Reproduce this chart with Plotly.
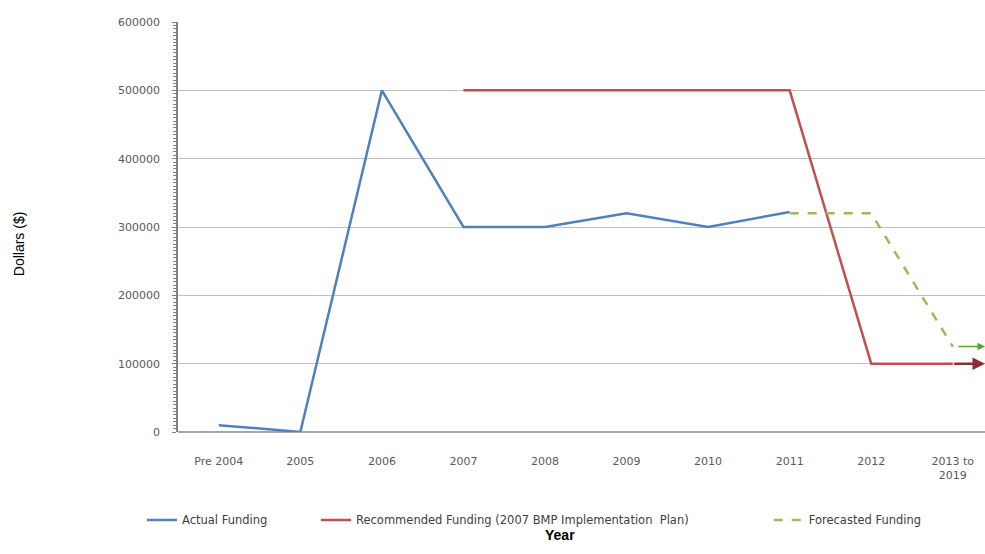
import plotly.graph_objects as go

categories = ["Pre 2004", "2005", "2006", "2007", "2008", "2009", "2010", "2011", "2012", "2013 to<br>2019"]
actual = [10000, 0, 500000, 300000, 300000, 320000, 300000, 322000, None, None]
recommended = [None, None, None, 500000, 500000, 500000, 500000, 500000, 100000, 100000]
forecast = [None, None, None, None, None, None, None, 320000, 320000, 125000]
y_ticks = [0, 100000, 200000, 300000, 400000, 500000, 600000]

xi = list(range(len(categories)))
font = "DejaVu Sans"
tick_col = "#595959"

fig = go.Figure()
fig.add_trace(go.Scatter(x=xi, y=actual, mode="lines", name="Actual Funding",
                         line=dict(color="#4F81BD", width=2.5), legend="legend"))
fig.add_trace(go.Scatter(x=xi, y=recommended, mode="lines",
                         name="Recommended Funding (2007 BMP Implementation  Plan)",
                         line=dict(color="#C0504D", width=2.5), legend="legend2"))
fig.add_trace(go.Scatter(x=xi, y=forecast, mode="lines", name="Forecasted Funding",
                         line=dict(color="#9BBB59", width=2.5, dash="dash"), legend="legend3"))

x_end = 9.395
# continuation arrows at right edge
fig.add_annotation(x=x_end, y=forecast[-1], ax=xi[-1] + 0.05, ay=forecast[-1],
                   xref="x", yref="y", axref="x", ayref="y", showarrow=True,
                   arrowhead=2, arrowsize=1, arrowwidth=1.5, arrowcolor="#4EA72E", text="")
fig.add_annotation(x=x_end, y=recommended[-1], ax=xi[-1], ay=recommended[-1],
                   xref="x", yref="y", axref="x", ayref="y", showarrow=True,
                   arrowhead=2, arrowsize=1, arrowwidth=2.5, arrowcolor="#8B2E3A", text="")

leg_font = dict(family=font, size=11.5, color="#404040")
leg_common = dict(orientation="h", xanchor="left", y=-0.2146, yanchor="middle",
                  font=leg_font, bgcolor="rgba(0,0,0,0)")

fig.update_layout(
    width=985, height=554,
    margin=dict(l=178, r=0, t=22, b=122),
    paper_bgcolor="white", plot_bgcolor="white",
    font=dict(family=font, size=11, color=tick_col),
    showlegend=True,
    legend=dict(x=-0.0446, **leg_common),
    legend2=dict(x=0.171, **leg_common),
    legend3=dict(x=0.732, **leg_common),
)
fig.update_xaxes(
    range=[-0.5, x_end], tickmode="array", tickvals=xi, ticktext=categories,
    showgrid=False, zeroline=False, showline=False,
    ticks="", ticklabelstandoff=21,
    tickfont=dict(family=font, size=11, color=tick_col),
)
fig.update_yaxes(
    range=[0, 600000], tickmode="array", tickvals=y_ticks,
    ticktext=[str(v) for v in y_ticks],
    showgrid=True, gridcolor="#BFBFBF", gridwidth=1.2,
    zeroline=True, zerolinecolor="#A6A6A6", zerolinewidth=1.5,
    showline=True, linecolor="#808080", linewidth=1.5,
    ticks="outside", ticklen=4, tickcolor="#808080",
    minor=dict(dtick=5000, ticks="outside", ticklen=3, tickcolor="#808080", showgrid=False),
    ticklabelstandoff=10,
    tickfont=dict(family=font, size=11, color=tick_col),
)
fig.add_annotation(text="Dollars ($)", xref="paper", yref="paper", x=-0.196, y=0.46,
                   xanchor="center", yanchor="middle",
                   textangle=-90, showarrow=False,
                   font=dict(family="Liberation Sans", size=14, color="#000000"))
fig.add_annotation(text="<b>Year</b>", xref="paper", yref="paper", x=0.473, y=-0.228,
                   xanchor="center", yanchor="top",
                   showarrow=False, font=dict(family="Liberation Sans", size=14, color="#000000"))

fig.write_html("out.html")
